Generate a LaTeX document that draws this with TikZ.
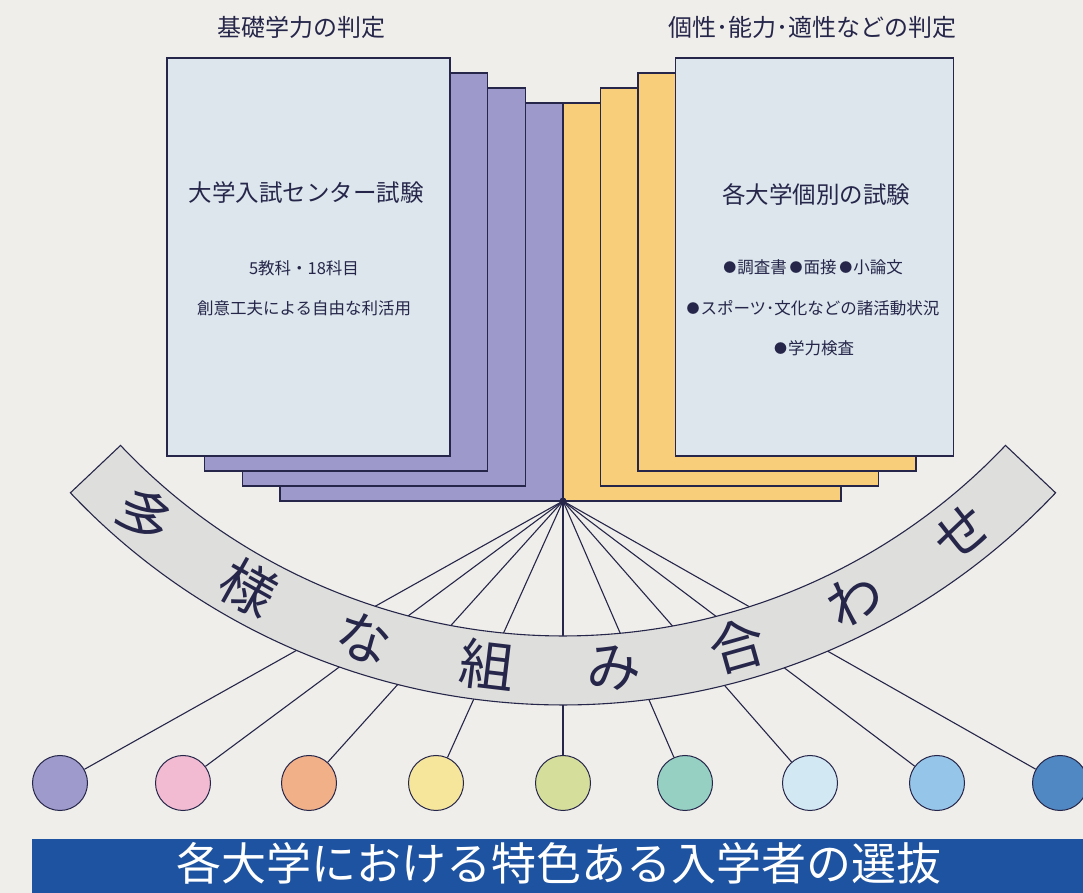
\documentclass[tikz,border=0pt]{standalone}
\usepackage{fontspec}
\newfontfamily\jp{Noto Sans CJK JP}
\newcommand{\fsz}[1]{\fontsize{#1}{#1}\selectfont\jp}
\newcommand{\bul}{{\fontsize{13}{13}\selectfont\raisebox{0.5pt}{●}}\hspace{1pt}}
\definecolor{paper}{HTML}{EFEEEA}
\definecolor{ink}{HTML}{26264A}
\definecolor{lilac}{HTML}{9D9ACB}
\definecolor{amber}{HTML}{F8CE7B}
\definecolor{pale}{HTML}{DCE6EC}
\definecolor{band}{HTML}{DEDEDC}
\definecolor{deep}{HTML}{1D53A0}
\definecolor{dotA}{HTML}{9E9ACB}
\definecolor{dotB}{HTML}{F2BBD2}
\definecolor{dotC}{HTML}{F2B088}
\definecolor{dotD}{HTML}{F6E69C}
\definecolor{dotE}{HTML}{D5DF9B}
\definecolor{dotF}{HTML}{95D0C3}
\definecolor{dotG}{HTML}{D2E8F3}
\definecolor{dotH}{HTML}{95C5E8}
\definecolor{dotI}{HTML}{4F88C2}

\begin{document}
\begin{tikzpicture}[x=1pt,y=1pt,
   sheet/.style={draw=ink,line width=1.1pt},
   ball/.style={circle,draw=ink,line width=1pt,minimum size=55pt,inner sep=0pt},
   spoke/.style={draw=ink,line width=1.1pt},
   lbl/.style={text=ink,inner sep=0pt}]
   \path[use as bounding box] (0,0) rectangle (1083,893);
   \fill[paper] (0,0) rectangle (1083,893);
   % the two stacks of sheets
   \foreach \k in {0,1,2}
     \filldraw[sheet,fill=lilac] (280-37.7*\k,392+15*\k) rectangle +(283,398);
   \filldraw[sheet,fill=pale] (167,437) rectangle +(283,398);
   \foreach \k in {0,1,2}
     \filldraw[sheet,fill=amber] (563+37.5*\k,392+15*\k) rectangle +(278,398);
   \filldraw[sheet,fill=pale] (675.5,437) rectangle +(278,398);
   \coordinate (hub) at (563,392);
   % headings and box texts
   \node[lbl] (hl) at (301,866) {\fsz{24}基礎学力の判定};
   \node[lbl] (hr) at (812,866) {\fsz{24}個性･能力･適性などの判定};
   \node[lbl] (tl) at (306,700) {\fsz{23.5}大学入試センター試験};
   \node[lbl] (tl1) at (304,625) {\fsz{16.5}5教科・18科目};
   \node[lbl] (tl2) at (304,585) {\fsz{16.5}創意工夫による自由な利活用};
   \node[lbl] (tr) at (816,698) {\fsz{23.5}各大学個別の試験};
   \node[lbl] (tr1) at (813,626) {\fsz{16.5}\bul 調査書\,\bul 面接\,\bul 小論文};
   \node[lbl] (tr2) at (813,585) {\fsz{16.5}\bul スポーツ･文化などの諸活動状況};
   \node[lbl] (tr3) at (814,545) {\fsz{16.5}\bul 学力検査};
   % circles and spokes
   \foreach \x/\col [count=\i] in {60/dotA,183/dotB,309/dotC,436/dotD,563/dotE,
                                   685/dotF,810/dotG,937/dotH,1060/dotI}
     \node[ball,fill=\col] (b\i) at (\x,110) {};
   \foreach \i in {1,...,9}
     \draw[spoke] (hub) -- (b\i);
   \fill[ink] (hub) circle (3.5pt);
   % curved band
   \filldraw[sheet,fill=band,shift={(563,866)}]
     (223.4:609) arc[start angle=223.4,end angle=316.6,radius=609pt]
     -- (316.6:678) arc[start angle=316.6,end angle=223.4,radius=678pt] -- cycle;
   \foreach \ch [count=\k, evaluate=\k as \ang using 218.25+11.25*\k] in {多,様,な,組,み,合,わ,せ}
     \node[lbl,rotate=\ang+90] (w\k) at ([shift={(563,866)}]\ang:643) {\fsz{55}\ch};
   % footer
   \fill[deep] (32,0) rectangle (1083,54);
   \node[lbl,text=white] (foot) at (559,30) {\fsz{45}各大学における特色ある入学者の選抜};
\end{tikzpicture}
\end{document}
